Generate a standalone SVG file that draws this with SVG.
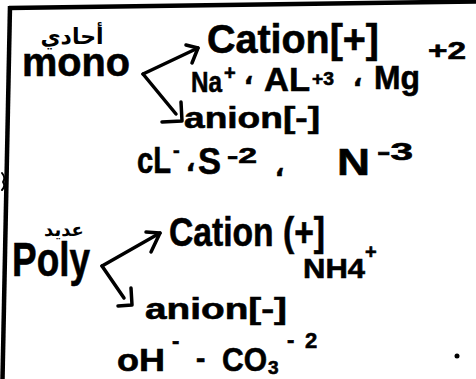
<svg xmlns="http://www.w3.org/2000/svg" width="476" height="379" viewBox="0 0 476 379">
<defs>
<style>
.t{font-family:"Liberation Sans","DejaVu Sans",sans-serif;font-weight:bold;fill:#000;stroke:#000;stroke-width:0.6}
.ar{font-family:"DejaVu Sans","Noto Sans",sans-serif;font-weight:bold;fill:#000;text-anchor:middle}
.ln{fill:none;stroke:#000;stroke-width:3.5;stroke-linecap:round;stroke-linejoin:round}
.bd{fill:none;stroke:#000;stroke-width:4.5;stroke-linecap:butt}
</style>
</defs>
<rect width="476" height="379" fill="#fff"/>
<g id="frame">
<path class="bd" d="M9,8 L476,1.5"/>
<path class="bd" d="M10,6 L2.5,379"/>
<path class="ln" style="stroke-width:2" d="M2,173 Q6,178 3,182 Q6,186 2,190"/>
</g>
<g id="mono">
<text class="ar" x="72" y="44" font-size="22">أحادي</text>
<text class="t" x="22" y="76" font-size="40" textLength="108" lengthAdjust="spacingAndGlyphs">mono</text>
</g>
<g id="mono-cation">
<text class="t" x="207" y="53" font-size="40" textLength="172" lengthAdjust="spacingAndGlyphs">Cation[+]</text>
<text class="t" x="191" y="92" font-size="30" textLength="31" lengthAdjust="spacingAndGlyphs">Na</text>
<text class="t" x="224" y="80" font-size="20">+</text>
<text class="t" x="244" y="84" font-size="24">،</text>
<text class="t" x="264" y="91" font-size="34" textLength="46" lengthAdjust="spacingAndGlyphs">AL</text>
<text class="t" x="312" y="85" font-size="18" textLength="22" lengthAdjust="spacingAndGlyphs">+3</text>
<text class="t" x="353" y="86" font-size="24">،</text>
<text class="t" x="374" y="89" font-size="34" textLength="46" lengthAdjust="spacingAndGlyphs">Mg</text>
<text class="t" x="428" y="59" font-size="24" textLength="38" lengthAdjust="spacingAndGlyphs">+2</text>
</g>
<g id="mono-anion">
<text class="t" x="184" y="128" font-size="30" textLength="136" lengthAdjust="spacingAndGlyphs">anion[-]</text>
<text class="t" x="137" y="173" font-size="36" textLength="34" lengthAdjust="spacingAndGlyphs">cL</text>
<text class="t" x="173" y="157" font-size="20">-</text>
<text class="t" x="186" y="171" font-size="24">،</text>
<text class="t" x="198" y="174" font-size="36" textLength="23" lengthAdjust="spacingAndGlyphs">S</text>
<text class="t" x="227" y="163" font-size="22" textLength="30" lengthAdjust="spacingAndGlyphs">-2</text>
<text class="t" x="275" y="176" font-size="24">،</text>
<text class="t" x="337" y="175" font-size="36" textLength="33" lengthAdjust="spacingAndGlyphs">N</text>
<text class="t" x="377" y="160" font-size="24" textLength="36" lengthAdjust="spacingAndGlyphs">-3</text>
</g>
<g id="poly">
<text class="ar" x="64" y="236" font-size="18">عديد</text>
<text class="t" x="12" y="276" font-size="48" textLength="78" lengthAdjust="spacingAndGlyphs">Poly</text>
</g>
<g id="poly-cation">
<text class="t" x="169" y="246" font-size="40" textLength="156" lengthAdjust="spacingAndGlyphs">Cation (+]</text>
<text class="t" x="303" y="278" font-size="28" textLength="62" lengthAdjust="spacingAndGlyphs">NH4</text>
<text class="t" x="365" y="259" font-size="20">+</text>
</g>
<g id="poly-anion">
<text class="t" x="145" y="319" font-size="30" textLength="142" lengthAdjust="spacingAndGlyphs">anion[-]</text>
<text class="t" x="117" y="371" font-size="32" textLength="48" lengthAdjust="spacingAndGlyphs">oH</text>
<text class="t" x="172" y="348" font-size="22">-</text>
<text class="t" x="196" y="368" font-size="28">-</text>
<text class="t" x="222" y="371" font-size="34" textLength="45" lengthAdjust="spacingAndGlyphs">CO</text>
<text class="t" x="268" y="374" font-size="19">3</text>
<text class="t" x="287" y="347" font-size="22">-</text>
<text class="t" x="305" y="348" font-size="22">2</text>
</g>
<g id="connectors">
<path class="ln" d="M143,74 L198,48"/>
<path class="ln" d="M186,45 L198,48 L192,63"/>
<path class="ln" d="M143,74 L176,114"/>
<path class="ln" d="M181,102 L182,121 L162,122"/>
<path class="ln" d="M102,266 L160,233"/>
<path class="ln" d="M146,232 L160,233 L151,252"/>
<path class="ln" d="M102,266 L124,298"/>
<path class="ln" d="M131,288 L132,305 L118,306"/>
</g>
<circle cx="457" cy="356" r="2.5" fill="#000"/>
</svg>
